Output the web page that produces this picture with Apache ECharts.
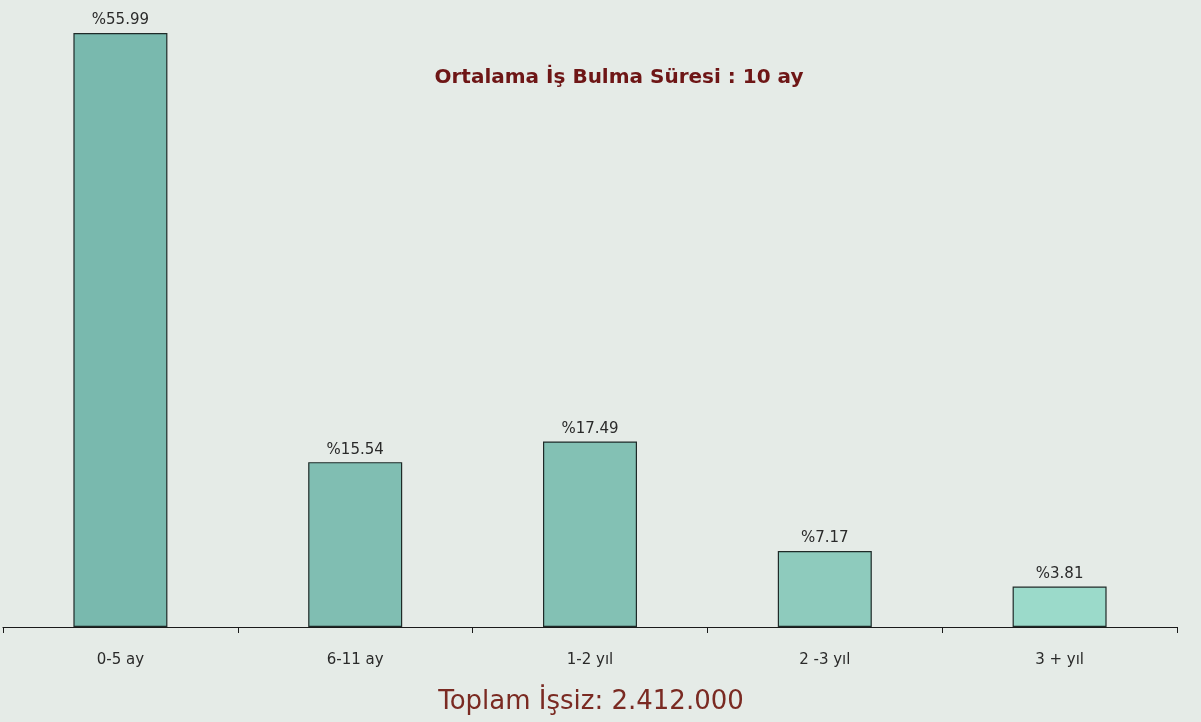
<!DOCTYPE html>
<html>
<head>
<meta charset="utf-8">
<script src="https://cdn.jsdelivr.net/npm/echarts@6/dist/echarts.min.js"></script>
<style>
html,body{margin:0;padding:0;background:#e5ebe7;}
#c{width:1201px;height:722px;}
</style>
</head>
<body>
<div id="c"></div>
<script>
const categories = ['0-5 ay', '6-11 ay', '1-2 yıl', '2 -3 yıl', '3 + yıl'];
const values = [55.99, 15.54, 17.49, 7.17, 3.81];
const titleText = 'Ortalama İş Bulma Süresi : 10 ay';
const footerText = 'Toplam İşsiz: 2.412.000';
const barColors = ['#79b9ae', '#80beb2', '#83c1b4', '#8ecbbd', '#9bdaca'];

const chart = echarts.init(document.getElementById('c'), null, {renderer: 'canvas'});
chart.setOption({
  backgroundColor: '#e5ebe7',
  animation: false,
  title: [
    {text: titleText, left: 614, top: 63, textAlign: 'center',
     textStyle: {fontFamily: 'DejaVu Sans', fontSize: 20, fontWeight: 'bold', color: '#6e1616'}},
    {text: footerText, left: 586, top: 684, textAlign: 'center',
     textStyle: {fontFamily: 'DejaVu Sans', fontSize: 26, fontWeight: 'normal', color: '#7a2a22'}}
  ],
  grid: {left: 3, right: 24, top: 33, bottom: 95, containLabel: false},
  xAxis: {
    type: 'category',
    data: categories,
    axisLine: {lineStyle: {color: '#1a1a1a', width: 1.2}},
    axisTick: {show: true, length: 6, lineStyle: {color: '#1a1a1a'}},
    axisLabel: {fontFamily: 'DejaVu Sans', fontSize: 15, color: '#2a2a2a', margin: 26}
  },
  yAxis: {
    type: 'value', min: 0, max: 56,
    show: false,
    splitLine: {show: false}
  },
  series: [{
    type: 'bar',
    barWidth: 94,
    data: values.map((v, i) => ({value: v, itemStyle: {color: barColors[i]}})),
    itemStyle: {borderColor: '#1f2a28', borderWidth: 1.2},
    label: {
      show: true, position: 'top', distance: 5,
      formatter: p => '%' + p.value.toFixed(2),
      fontFamily: 'DejaVu Sans', fontSize: 15, color: '#2a2a2a'
    }
  }]
});
</script>
</body>
</html>
